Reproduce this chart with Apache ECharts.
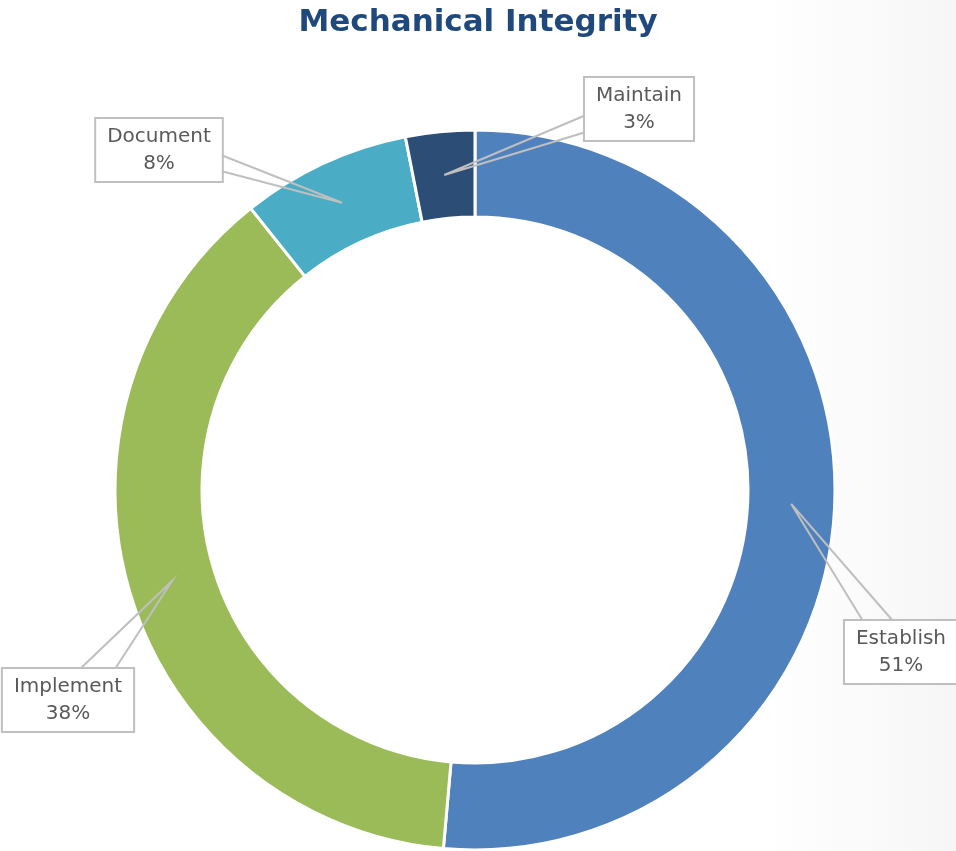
<!DOCTYPE html>
<html>
<head>
<meta charset="utf-8">
<style>html,body{margin:0;padding:0;background:#fff}#c{width:956px;height:851px}</style>
<script src="https://cdn.jsdelivr.net/npm/echarts@6/dist/echarts.min.js"></script>
</head>
<body>
<div id="c"></div>
<script>
// Data
const titleText = 'Mechanical Integrity';
const categories = ['Establish', 'Implement', 'Document', 'Maintain'];
const values = [51.4, 37.9, 7.6, 3.1];
const colors = ['#4F81BD', '#9BBB59', '#4BACC6', '#2C4D75'];

// Layout (positions only)
const CX = 475, CY = 490, R_IN = 273, R_OUT = 360;
const labelCenters = [[901, 652], [68, 700], [159, 150], [639, 109]];
const labelBases = [
  [[863, 621], [893, 621]],
  [[80, 669], [115, 669]],
  [[221, 155], [221, 171]],
  [[586, 115], [586, 132]]
];

const total = values.reduce((a, b) => a + b, 0);
function anchorPoint(i) {
  let before = 0;
  for (let k = 0; k < i; k++) before += values[k];
  const frac = (before + values[i] / 2) / total;
  const ang = frac * 2 * Math.PI;
  const rm = (R_IN + R_OUT) / 2;
  return [CX + rm * Math.sin(ang), CY - rm * Math.cos(ang)];
}

const pieData = categories.map((c, i) => ({name: c, value: values[i], itemStyle: {color: colors[i]}}));

const chart = echarts.init(document.getElementById('c'), null, {renderer: 'canvas'});
chart.setOption({
  backgroundColor: {
    type: 'linear', x: 0, y: 0, x2: 1, y2: 0,
    colorStops: [{offset: 0, color: '#ffffff'}, {offset: 0.8, color: '#ffffff'}, {offset: 1, color: '#f6f6f6'}]
  },
  title: {
    text: titleText,
    left: 'center',
    top: 2,
    textStyle: {fontFamily: 'DejaVu Sans', fontSize: 31, fontWeight: 'bold', color: '#1F497D'}
  },
  series: [{
    type: 'pie',
    z: 2,
    center: [CX, CY],
    radius: [R_IN, R_OUT],
    startAngle: 90,
    clockwise: true,
    silent: true,
    itemStyle: {borderColor: '#ffffff', borderWidth: 3},
    label: {show: false},
    labelLine: {show: false},
    data: pieData
  }, {
    type: 'pie',
    z: 5,
    center: [CX, CY],
    radius: [R_IN, R_OUT],
    startAngle: 90,
    clockwise: true,
    percentPrecision: 0,
    avoidLabelOverlap: false,
    silent: true,
    itemStyle: {color: 'rgba(0,0,0,0)', borderWidth: 0},
    data: categories.map((c, i) => ({name: c, value: values[i]})),
    label: {
      show: true,
      position: 'outside',
      formatter: '{b}\n{d}%',
      fontFamily: 'DejaVu Sans',
      fontSize: 20,
      lineHeight: 27,
      color: '#595959',
      align: 'center',
      backgroundColor: '#ffffff',
      borderColor: '#BFBFBF',
      borderWidth: 2,
      padding: [5, 11, 3, 11]
    },
    labelLine: {
      show: true,
      lineStyle: {color: '#BFBFBF', width: 2}
    },
    labelLayout: function (p) {
      const i = p.dataIndex;
      const a = anchorPoint(i);
      const b = labelBases[i];
      return {
        x: labelCenters[i][0],
        y: labelCenters[i][1],
        align: 'center',
        verticalAlign: 'middle',
        labelLinePoints: [b[0], a, b[1]]
      };
    }
  }]
});
</script>
</body>
</html>
